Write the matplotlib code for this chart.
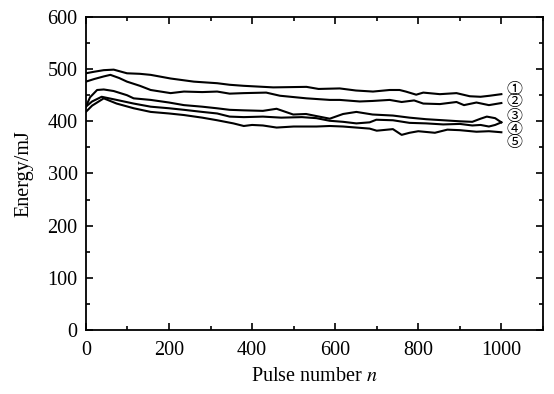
import matplotlib
matplotlib.use("Agg")
import matplotlib.pyplot as plt
from matplotlib.ticker import MultipleLocator

# ---- data ----
x1 = [0, 20, 43, 67, 99, 130, 156, 204, 260, 316, 346, 380, 451, 531, 560, 611, 650, 691, 731, 755, 770, 795, 812, 852, 892, 924, 950, 972, 1000]
y1 = [492, 495, 498, 499, 492, 491, 489, 482, 476, 473, 470, 468, 465, 466, 462, 463, 459, 457, 460, 460, 457, 451, 455, 452, 454, 448, 447, 449, 452]

x2 = [0, 20, 43, 59, 80, 99, 130, 156, 204, 236, 280, 316, 346, 380, 434, 467, 531, 587, 611, 659, 690, 731, 760, 790, 812, 852, 892, 910, 940, 970, 1000]
y2 = [476, 481, 486, 489, 483, 476, 468, 460, 454, 457, 456, 457, 453, 454, 455, 449, 444, 441, 441, 438, 439, 441, 437, 440, 434, 433, 437, 431, 436, 431, 435]

x3 = [0, 10, 27, 43, 67, 99, 115, 156, 200, 236, 280, 315, 346, 380, 426, 459, 499, 530, 555, 587, 619, 651, 690, 739, 779, 819, 860, 900, 930, 950, 965, 985, 1000]
y3 = [428, 446, 460, 461, 458, 450, 444, 441, 436, 431, 428, 425, 422, 421, 420, 424, 413, 414, 410, 405, 414, 418, 413, 411, 407, 404, 402, 400, 399, 405, 409, 406, 398]

x4 = [0, 15, 38, 74, 115, 156, 200, 236, 280, 316, 346, 380, 426, 470, 520, 555, 587, 619, 651, 683, 699, 739, 779, 819, 860, 900, 930, 950, 970, 985, 1000]
y4 = [428, 438, 447, 441, 434, 428, 425, 422, 418, 415, 409, 408, 409, 407, 408, 406, 401, 399, 396, 398, 403, 402, 397, 396, 394, 395, 392, 393, 390, 393, 398]

x5 = [0, 15, 43, 74, 115, 156, 200, 236, 280, 316, 355, 380, 400, 426, 459, 500, 555, 587, 619, 651, 683, 700, 739, 760, 779, 800, 840, 870, 900, 940, 970, 1000]
y5 = [418, 430, 444, 434, 425, 418, 415, 412, 407, 402, 396, 391, 393, 392, 388, 390, 390, 391, 390, 388, 386, 382, 385, 374, 378, 381, 378, 384, 383, 380, 381, 379]

series = [(x1, y1), (x2, y2), (x3, y3), (x4, y4), (x5, y5)]
labels = ["\u2460", "\u2461", "\u2462", "\u2463", "\u2464"]
label_y = [461, 437, 410, 384, 359]
label_x = 1032

xticks = [0, 200, 400, 600, 800, 1000]
yticks = [0, 100, 200, 300, 400, 500, 600]

plt.rcParams['font.family'] = ['Liberation Serif', 'DejaVu Serif']
plt.rcParams['mathtext.fontset'] = 'stix'

fig = plt.figure(figsize=(5.54, 3.94), dpi=100)
ax = fig.add_axes([0.155, 0.1624, 0.825, 0.7946])

for xs, ys in series:
    ax.plot(xs, ys, color='black', lw=1.5)

for lab, ly in zip(labels, label_y):
    ax.text(label_x, ly, lab, ha='center', va='center', fontsize=11.5,
            family=['Noto Sans CJK SC', 'DejaVu Sans'])

ax.set_xlim(0, 1100)
ax.set_ylim(0, 600)
ax.set_xticks(xticks)
ax.set_yticks(yticks)
ax.xaxis.set_minor_locator(MultipleLocator(100))
ax.yaxis.set_minor_locator(MultipleLocator(50))
ax.tick_params(which='both', direction='in', top=True, right=True, labelsize=14.5, width=1.2)
ax.tick_params(which='major', length=5)
ax.tick_params(which='minor', length=3)
ax.tick_params(axis='x', which='major', pad=8)
ax.tick_params(axis='y', which='major', pad=6)
for s in ax.spines.values():
    s.set_linewidth(1.3)

ax.set_xlabel('Pulse number $n$', fontsize=14.5, labelpad=5)
ax.set_ylabel('Energy/mJ', fontsize=14.5, labelpad=10)

fig.savefig('out.png', dpi=100)
